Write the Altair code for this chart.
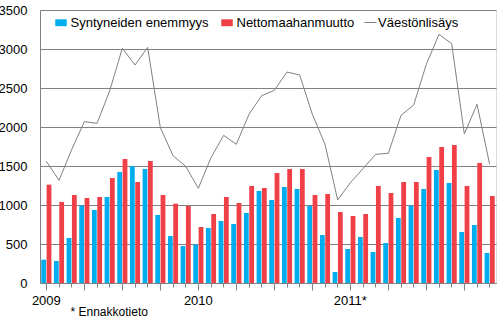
import altair as alt
import pandas as pd

# Monthly data, 2009-01 ... 2011-12
kuukausi = list(range(36))
syntyneiden = [299, 282, 577, 992, 936, 1103, 1423, 1496, 1462, 872, 603, 474,
               492, 705, 795, 757, 898, 1180, 1064, 1231, 1205, 987, 615, 141,
               436, 590, 397, 513, 833, 992, 1205, 1449, 1282, 654, 744, 385]
netto = [1261, 1039, 1128, 1090, 1103, 1346, 1590, 1295, 1564, 1128, 1017, 987,
         718, 885, 1103, 1026, 1244, 1218, 1410, 1462, 1462, 1128, 1141, 910,
         859, 885, 1244, 1154, 1295, 1295, 1616, 1744, 1769, 1244, 1539, 1115]
lisays = [1560, 1316, 1710, 2069, 2047, 2462, 3009, 2795, 3022, 1992, 1633, 1496,
          1214, 1607, 1893, 1778, 2163, 2402, 2470, 2705, 2667, 2163, 1778, 1064,
          1286, 1466, 1650, 1663, 2150, 2282, 2804, 3188, 3069, 1910, 2291, 1522]
year_labels = {0: "2009", 12: "2010", 24: "2011*"}
series_bar = ["Syntyneiden enemmyys", "Nettomaahanmuutto"]
series_line = "Väestönlisäys"
footnote = "* Ennakkotieto"
y_ticks = [0, 500, 1000, 1500, 2000, 2500, 3000, 3500]

FONT = "Liberation Sans"
GRAY = "#808080"
CYAN = "#00AEEF"
RED = "#EE4046"

bars = pd.DataFrame({
    "kk": kuukausi * 2,
    "sarja": [series_bar[0]] * 36 + [series_bar[1]] * 36,
    "arvo": syntyneiden + netto,
})
line = pd.DataFrame({"kk": kuukausi, "sarja": [series_line] * 36, "arvo": lisays})

label_expr = " : ".join(
    [f"datum.value == {k} ? '{v}'" for k, v in year_labels.items()]) + " : ''"

x_enc = alt.X(
    "kk:O",
    title=None,
    scale=alt.Scale(paddingInner=0.2, paddingOuter=0.1),
    axis=alt.Axis(
        labelExpr=label_expr,
        labelAngle=0,
        labelFont=FONT,
        labelFontSize=13,
        labelColor="black",
        labelPadding=4,
        labelBaseline="top",
        domainColor=GRAY,
        tickColor=GRAY,
        tickSize=alt.ExprRef(expr="datum.value % 3 == 0 ? 7 : 4"),
        labelOverlap=False,
    ),
)
y_enc = alt.Y(
    "arvo:Q",
    title=None,
    scale=alt.Scale(domain=[0, 3500], nice=False),
    axis=alt.Axis(
        values=y_ticks,
        format="d",
        ticks=False,
        labelFont=FONT,
        labelFontSize=13,
        labelColor="black",
        labelPadding=13,
        domainColor=GRAY,
        gridColor=GRAY,
        gridOpacity=1,
    ),
)

bar_layer = alt.Chart(bars).mark_bar().encode(
    x=x_enc,
    y=y_enc,
    xOffset=alt.XOffset("sarja:N", sort=series_bar,
                        scale=alt.Scale(paddingInner=0.1)),
    color=alt.Color(
        "sarja:N",
        sort=series_bar,
        scale=alt.Scale(domain=series_bar, range=[CYAN, RED]),
        legend=alt.Legend(
            title=None,
            orient="none",
            legendX=14.5,
            legendY=6,
            direction="horizontal",
            symbolType="M-1,-0.6H1V0.6H-1Z",
            symbolSize=132,
            symbolStrokeWidth=0,
            labelFont=FONT,
            labelFontSize=13,
            labelColor="black",
            labelOffset=3,
            columnPadding=11,
            padding=0,
        ),
    ),
)

line_layer = alt.Chart(line).mark_line(strokeWidth=1).encode(
    x=x_enc,
    y=y_enc,
    stroke=alt.Stroke(
        "sarja:N",
        scale=alt.Scale(domain=[series_line], range=[GRAY]),
        legend=alt.Legend(
            title=None,
            orient="none",
            legendX=324,
            legendY=6,
            symbolType="stroke",
            symbolSize=144,
            symbolStrokeWidth=1,
            labelFont=FONT,
            labelFontSize=13,
            labelColor="black",
            labelOffset=1,
            padding=0,
        ),
    ),
)

note = alt.Chart(pd.DataFrame({"t": [footnote]})).mark_text(
    font=FONT, fontSize=12, align="left", baseline="alphabetic", color="black"
).encode(text="t:N", x=alt.value(30.5), y=alt.value(306))

chart = alt.layer(bar_layer, line_layer, note).resolve_scale(
    color="independent"
).properties(
    width=456,
    height=273,
    autosize=alt.AutoSizeParams(type="none"),
    padding={"left": 40, "top": 10, "right": 1, "bottom": 34},
).configure_view(stroke=GRAY, strokeWidth=1).configure(background="white")

chart.save("out.html", embed_options={"renderer": "svg", "actions": False})
